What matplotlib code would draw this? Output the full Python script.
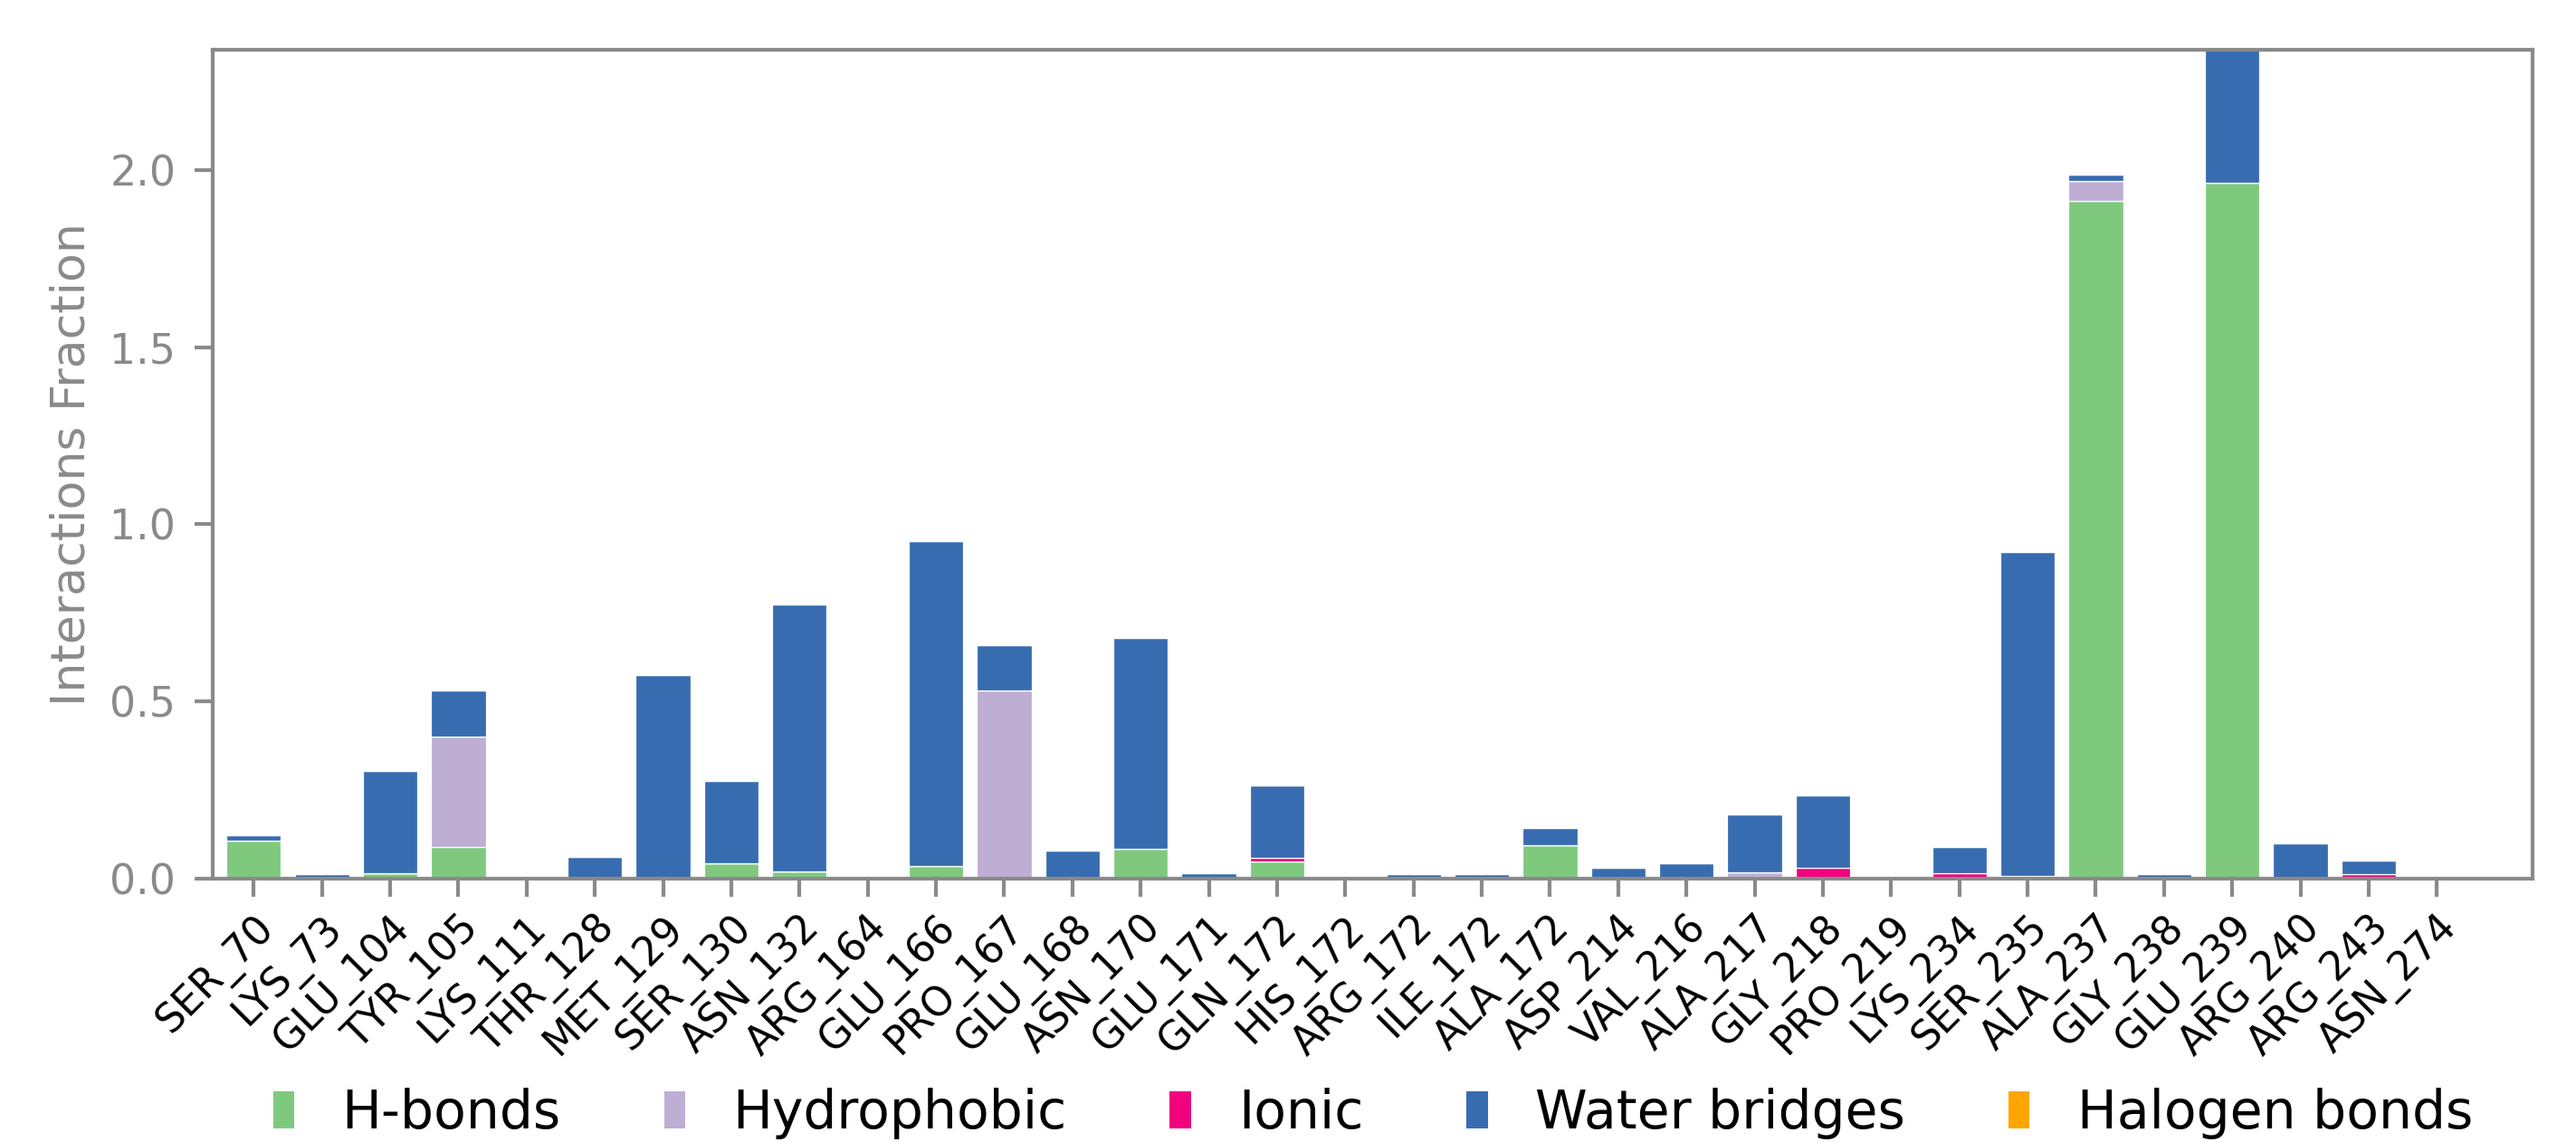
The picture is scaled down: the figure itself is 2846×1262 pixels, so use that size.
import matplotlib
matplotlib.use("Agg")
import matplotlib.pyplot as plt
from matplotlib.patches import Patch
import numpy as np

residues = ["SER_70", "LYS_73", "GLU_104", "TYR_105", "LYS_111", "THR_128", "MET_129",
            "SER_130", "ASN_132", "ARG_164", "GLU_166", "PRO_167", "GLU_168", "ASN_170",
            "GLU_171", "GLN_172", "HIS_172", "ARG_172", "ILE_172", "ALA_172", "ASP_214",
            "VAL_216", "ALA_217", "GLY_218", "PRO_219", "LYS_234", "SER_235", "ALA_237",
            "GLY_238", "GLU_239", "ARG_240", "ARG_243", "ASN_274"]

hbonds = [0.108, 0.0, 0.015, 0.090, 0.0, 0.0, 0.0,
          0.044, 0.021, 0.0, 0.035, 0.0, 0.0, 0.083,
          0.0, 0.049, 0.0, 0.0, 0.0, 0.095, 0.0,
          0.0, 0.005, 0.0, 0.0, 0.0, 0.0, 1.913,
          0.0, 1.964, 0.0, 0.0, 0.0]
hydrophobic = [0.0, 0.0, 0.0, 0.310, 0.0, 0.0, 0.0,
               0.0, 0.0, 0.0, 0.0, 0.531, 0.0, 0.0,
               0.0, 0.0, 0.0, 0.0, 0.0, 0.0, 0.0,
               0.0, 0.012, 0.0, 0.0, 0.0, 0.0, 0.057,
               0.0, 0.0, 0.0, 0.0, 0.0]
ionic = [0.0, 0.0, 0.0, 0.0, 0.0, 0.0, 0.0,
         0.0, 0.0, 0.0, 0.0, 0.0, 0.0, 0.0,
         0.0, 0.009, 0.0, 0.0, 0.0, 0.0, 0.0,
         0.0, 0.0, 0.031, 0.0, 0.015, 0.008, 0.0,
         0.0, 0.0, 0.0, 0.012, 0.0]
water_bridges = [0.015, 0.012, 0.289, 0.130, 0.0, 0.061, 0.574,
                 0.233, 0.752, 0.0, 0.918, 0.128, 0.080, 0.597,
                 0.015, 0.206, 0.0, 0.012, 0.012, 0.047, 0.031,
                 0.043, 0.164, 0.203, 0.0, 0.075, 0.913, 0.017,
                 0.012, 0.375, 0.100, 0.038, 0.0]
halogen = [0.0] * len(residues)

series = [("H-bonds", hbonds, "#7fc97f"),
          ("Hydrophobic", hydrophobic, "#beaed4"),
          ("Ionic", ionic, "#f0027f"),
          ("Water bridges", water_bridges, "#386cb0"),
          ("Halogen bonds", halogen, "#ffa500")]

grey = "#8a8a8a"

fig = plt.figure(figsize=(2846 / 300, 1262 / 300), dpi=300)
ax = fig.add_axes([0.0826, 0.2306, 0.9005, 0.7258])

x = np.arange(len(residues))
bottom = np.zeros(len(residues))
for name, vals, color in series:
    vals = np.array(vals)
    ax.bar(x, vals, width=0.8, bottom=bottom, color=color,
           edgecolor="white", linewidth=0.3, label=name)
    bottom += vals

ax.set_xlim(-0.6, 33.4)
ax.set_ylim(0, 2.339)
ax.set_xticks(x)
ax.set_xticklabels(residues, rotation=45, ha="right", rotation_mode="anchor",
                   fontsize=10.5, color="black")
ax.set_yticks([0.0, 0.5, 1.0, 1.5, 2.0])
ax.tick_params(axis="y", colors=grey, labelsize=11, length=4.8, width=1, pad=5)
ax.tick_params(axis="x", color=grey, length=4.8, width=1, pad=3, labelcolor="black")
ax.set_ylabel("Interactions Fraction", fontsize=12.5, color=grey, labelpad=4)
for sp in ax.spines.values():
    sp.set_color(grey)
    sp.set_linewidth(1)

handles = [Patch(facecolor=c, edgecolor="none", label=n) for n, _, c in series]
fig.legend(handles=handles, loc="center", bbox_to_anchor=(0.533, 0.025), ncol=5,
           frameon=False, fontsize=14, handlelength=0.4, handleheight=0.7,
           handletextpad=0.9, columnspacing=1.95)

fig.savefig("out.png", dpi=300)
